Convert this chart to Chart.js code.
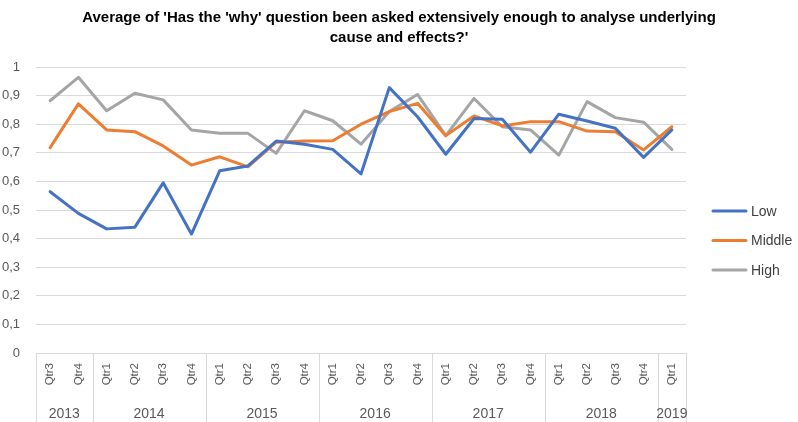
<!DOCTYPE html>
<html>
<head>
<meta charset="utf-8">
<script src="https://cdn.jsdelivr.net/npm/chart.js@4"></script>
<style>
html,body{margin:0;padding:0;background:#fff;}
canvas{display:block;}
</style>
</head>
<body>
<canvas id="c" width="798" height="422" style="width:798px;height:422px"></canvas>
<script>
const titleLines = ["Average of 'Has the 'why' question been asked extensively enough to analyse underlying", "cause and effects?'"];
const quarters = ['Qtr3','Qtr4','Qtr1','Qtr2','Qtr3','Qtr4','Qtr1','Qtr2','Qtr3','Qtr4','Qtr1','Qtr2','Qtr3','Qtr4','Qtr1','Qtr2','Qtr3','Qtr4','Qtr1','Qtr2','Qtr3','Qtr4','Qtr1'];
const yearLabels = ['2013','2014','2015','2016','2017','2018','2019'];
const yearSpans = [2,4,4,4,4,4,1];
const lowValues =    [0.564,0.488,0.434,0.440,0.595,0.416,0.637,0.654,0.741,0.730,0.712,0.626,0.928,0.826,0.695,0.820,0.817,0.702,0.835,0.811,0.786,0.684,0.780];
const middleValues = [0.718,0.871,0.780,0.774,0.724,0.657,0.686,0.651,0.737,0.741,0.742,0.800,0.844,0.873,0.760,0.829,0.794,0.809,0.809,0.776,0.774,0.710,0.791];
const highValues =   [0.882,0.964,0.847,0.908,0.885,0.780,0.768,0.768,0.698,0.847,0.812,0.730,0.844,0.904,0.760,0.890,0.791,0.780,0.692,0.879,0.823,0.807,0.712];
const seriesNames = ['Low','Middle','High'];
const seriesColors = ['#4472C4','#ED7D31','#A5A5A5'];

const FONT = "'Liberation Sans', Arial, sans-serif";
const TEXT = '#595959';
const GRID = '#D9D9D9';

const extras = {
  id: 'extras',
  afterDraw(chart) {
    const ctx = chart.ctx;
    const xs = chart.scales.x;
    const area = chart.chartArea;
    ctx.save();
    // title
    ctx.fillStyle = '#000';
    ctx.textAlign = 'center';
    ctx.textBaseline = 'middle';
    ctx.font = "bold 15px " + FONT;
    ctx.fillText(titleLines[0], 399, 18);
    ctx.fillText(titleLines[1], 399, 38);
    // year separators and labels
    ctx.strokeStyle = GRID;
    ctx.lineWidth = 1;
    const bottom = chart.height;
    let idx = 0;
    const edges = [area.left];
    yearSpans.forEach((s) => {
      idx += s;
      if (idx < quarters.length) {
        edges.push((xs.getPixelForValue(idx - 1) + xs.getPixelForValue(idx)) / 2);
      } else {
        edges.push(area.right);
      }
    });
    edges.forEach((e) => {
      const x = Math.round(e) + 0.5;
      ctx.beginPath();
      ctx.moveTo(x, area.bottom);
      ctx.lineTo(x, bottom);
      ctx.stroke();
    });
    ctx.fillStyle = TEXT;
    ctx.font = "14px " + FONT;
    yearLabels.forEach((lab, i) => {
      ctx.fillText(lab, (edges[i] + edges[i + 1]) / 2, 414);
    });
    // legend
    ctx.textAlign = 'left';
    ctx.font = "14px " + FONT;
    chart.data.datasets.forEach((ds, i) => {
      const y = 211 + i * 29.5;
      ctx.strokeStyle = ds.borderColor;
      ctx.lineWidth = 3;
      ctx.lineCap = 'round';
      ctx.beginPath();
      ctx.moveTo(713, y);
      ctx.lineTo(746, y);
      ctx.stroke();
      ctx.fillStyle = '#404040';
      ctx.fillText(ds.label, 751, y + 1);
    });
    ctx.restore();
  }
};

const datasetsValues = [lowValues, middleValues, highValues];
new Chart(document.getElementById('c'), {
  type: 'line',
  data: {
    labels: quarters,
    datasets: datasetsValues.map((vals, i) => ({
      label: seriesNames[i],
      data: vals,
      borderColor: seriesColors[i],
      backgroundColor: seriesColors[i],
      borderWidth: 3,
      pointRadius: 0,
      tension: 0,
      fill: false,
      borderJoinStyle: 'round',
      borderCapStyle: 'round'
    }))
  },
  options: {
    responsive: false,
    animation: false,
    layout: { padding: { top: 67, right: 112, left: 0, bottom: 0 } },
    plugins: { legend: { display: false }, title: { display: false }, tooltip: { enabled: false } },
    scales: {
      x: {
        offset: true,
        grid: { display: false, drawTicks: false },
        border: { display: true, color: GRID, width: 1 },
        ticks: { color: TEXT, font: { family: FONT, size: 11.5 }, minRotation: 90, maxRotation: 90, autoSkip: false, padding: 10 },
        afterFit(s) { s.height = 69; }
      },
      y: {
        min: 0, max: 1,
        grid: { color: GRID, lineWidth: 1, drawTicks: false },
        border: { display: false },
        ticks: {
          stepSize: 0.1, color: TEXT, font: { family: FONT, size: 13 }, padding: 16,
          callback: (v) => { const r = Math.round(v * 10) / 10; return r === 0 ? '0' : r === 1 ? '1' : r.toFixed(1).replace('.', ','); }
        },
        afterFit(s) { s.width = 36; }
      }
    }
  },
  plugins: [extras]
});
</script>
</body>
</html>
